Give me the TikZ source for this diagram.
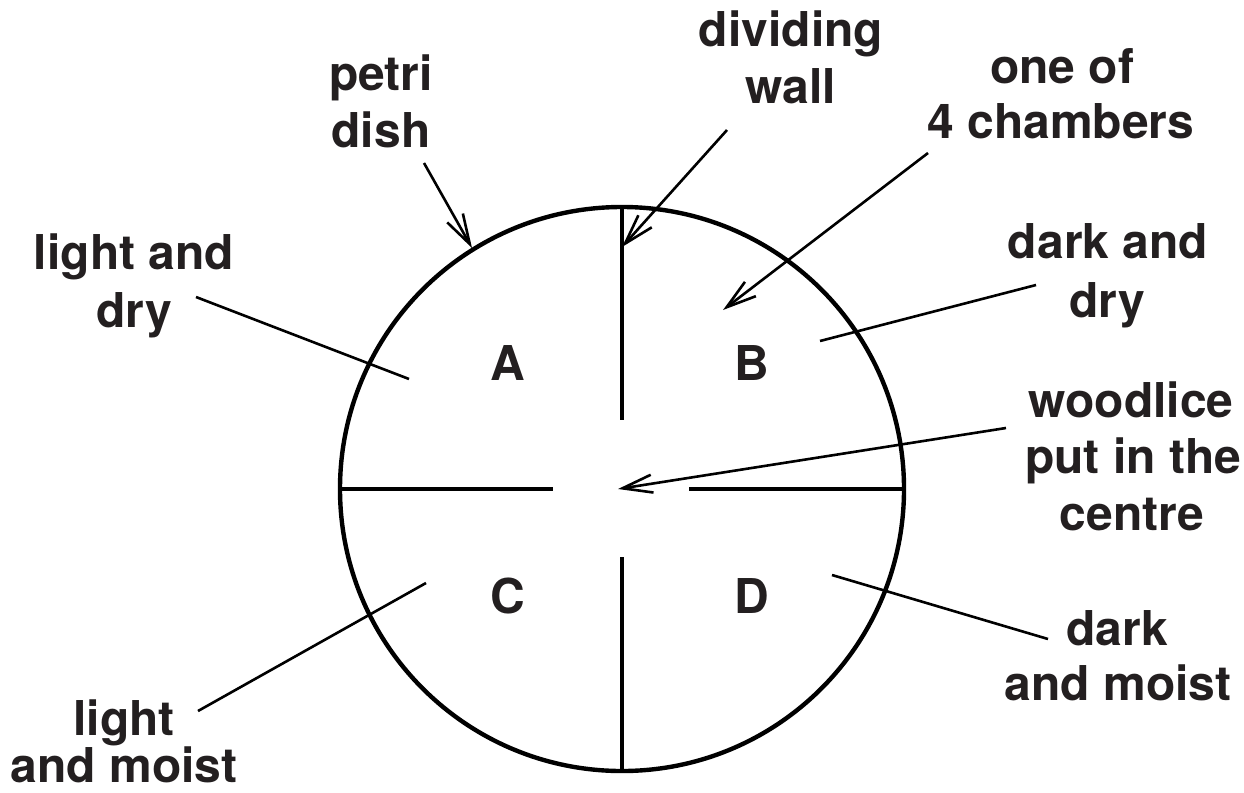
\documentclass[tikz,border=0pt]{standalone}
\usepackage{fontspec}
\setmainfont{TeX Gyre Heros}
\usetikzlibrary{arrows.meta}
\definecolor{ink}{HTML}{231F20}
\begin{document}
\begin{tikzpicture}[x=0.5bp,y=-0.5bp,
  lbl/.style={anchor=base,inner sep=0pt,text=ink,font=\fontsize{24bp}{28bp}\selectfont\bfseries},
  dish/.style={line width=2.2bp,draw=black},
  wall/.style={line width=1.7bp,draw=black},
  leader/.style={line width=1.3bp,draw=black},
  pointer/.style={leader,-{Straight Barb[length=15bp,width=9bp,line width=1.3bp]}}]
\useasboundingbox (0,0) rectangle (1244,792);
% petri dish
\coordinate (c) at (622,489);
\draw[dish] (c) circle[radius=141bp];
% dividing walls
\coordinate (wt1) at (622,207); \coordinate (wt2) at (622,420);
\coordinate (wb1) at (622,557); \coordinate (wb2) at (622,771);
\coordinate (wl1) at (340,489); \coordinate (wl2) at (553,489);
\coordinate (wr1) at (689,489); \coordinate (wr2) at (904,489);
\draw[wall] (wt1) -- (wt2);
\draw[wall] (wb1) -- (wb2);
\draw[wall] (wl1) -- (wl2);
\draw[wall] (wr1) -- (wr2);
% chamber letters
\node[lbl] (A) at (508,380) {A};
\node[lbl] (B) at (752,380) {B};
\node[lbl] (C) at (508,613) {C};
\node[lbl] (D) at (752,613) {D};
% labels
\node[lbl] (petri1) at (381,90) {petri};
\node[lbl] (petri2) at (381,147) {dish};
\node[lbl] (div1) at (791,46) {dividing};
\node[lbl] (div2) at (791,103) {wall};
\node[lbl] (ch1) at (1062,83) {one of};
\node[lbl] (ch2) at (1061,138) {4 chambers};
\node[lbl] (ld1) at (134,269) {light and};
\node[lbl] (ld2) at (134,327) {dry};
\node[lbl] (dd1) at (1108,258) {dark and};
\node[lbl] (dd2) at (1107,317) {dry};
\node[lbl] (wl1t) at (1131,417) {woodlice};
\node[lbl] (wl2t) at (1133,473) {put in the};
\node[lbl] (wl3t) at (1132,530) {centre};
\node[lbl] (lm1) at (124,735) {light};
\node[lbl] (lm2) at (124,782) {and moist};
\node[lbl] (dm1) at (1117,645) {dark};
\node[lbl] (dm2) at (1118,700) {and moist};
% leader end points
\coordinate (p0) at (424,163); \coordinate (p1) at (472,248);
\coordinate (d0) at (727,130); \coordinate (d1) at (622,247);
\coordinate (h0) at (928,153); \coordinate (h1) at (723,310);
\coordinate (b0) at (1036,285); \coordinate (b1) at (820,341);
\coordinate (w0) at (1006,428); \coordinate (w1) at (618,489);
\coordinate (a0) at (196,297); \coordinate (a1) at (409,379);
\coordinate (m0) at (198,711); \coordinate (m1) at (426,583);
\coordinate (n0) at (1048,639); \coordinate (n1) at (832,575);
\draw[pointer] (p0) -- (p1);
\draw[pointer] (d0) -- (d1);
\draw[pointer] (h0) -- (h1);
\draw[pointer] (w0) -- (w1);
\draw[leader] (b0) -- (b1);
\draw[leader] (a0) -- (a1);
\draw[leader] (m0) -- (m1);
\draw[leader] (n0) -- (n1);
\end{tikzpicture}
\end{document}
